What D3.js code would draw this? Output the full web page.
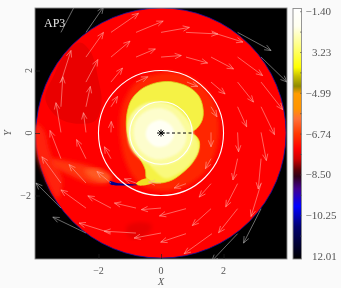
<!DOCTYPE html>
<html>
<head>
<meta charset="utf-8">
<script src="https://d3js.org/d3.v7.min.js"></script>
<style>
html,body{margin:0;padding:0;background:#fafafa;}
svg{display:block;}
text{font-family:"Liberation Serif",serif;fill:#555;}
</style>
</head>
<body>
<svg id="chart" width="341" height="288"></svg>
<script>
// velocity arrows, data coords: x0,y0,x1,y1
const arrows = [
[-3.2,3.22,-2.66,4.26],[-2.4,3.22,-1.84,4.03],[-1.6,3.22,-0.72,3.83],[-0.8,3.22,0.07,3.58],[0,3.22,0.91,3.38],[0.8,3.22,1.82,3.17],[1.63,3.22,2.62,2.91],[2.45,3.22,3.52,2.64],
[-2.4,2.43,-1.84,3.22],[-1.6,2.43,-0.99,2.94],[-0.8,2.43,-0.18,2.69],[0,2.43,0.65,2.48],[0.8,2.43,1.49,2.24],[1.6,2.43,2.32,2.05],[2.45,2.43,3.25,1.84],[3.2,2.43,4.03,1.63],
[-3.2,1.63,-2.88,2.64],[-2.4,1.63,-2.02,2.35],[-1.6,1.63,-1.23,2.08],[-0.8,1.63,-0.42,1.8],[0.83,1.63,1.18,1.49],[1.6,1.63,2.05,1.25],[2.45,1.63,2.96,0.99],[3.2,1.63,3.89,0.75],
[-3.2,0.84,-3.14,1.8],[-2.4,0.84,-2.26,1.49],[-1.6,0.84,-1.39,1.17],[1.6,0.84,1.79,0.52],[2.45,0.84,2.74,0.2],[3.2,0.84,3.63,-0.05],
[-3.2,0.02,-3.36,0.97],[-2.4,0.02,-2.48,0.65],[-1.6,0.02,-1.59,0.37],[1.6,0.02,1.6,-0.44],[2.45,0.02,2.48,-0.6],[3.2,0.02,3.37,-0.88],
[-3.2,-0.82,-3.55,0.08],[-2.4,-0.82,-2.7,-0.21],[-1.6,-0.82,-1.81,-0.44],[1.6,-0.82,1.42,-1.14],[2.45,-0.82,2.3,-1.5],[3.2,-0.82,3.11,-1.79],
[-3.2,-1.6,-3.81,-0.76],[-2.4,-1.6,-2.94,-1.01],[-1.6,-1.6,-2.05,-1.23],[-0.8,-1.6,-1.17,-1.47],[0,-1.6,-0.4,-1.57],[0.8,-1.62,0.42,-1.76],[1.6,-1.62,1.22,-2.05],[2.45,-1.62,2.07,-2.36],[3.2,-1.62,2.88,-2.67],
[-3.2,-2.4,-4,-1.6],[-2.4,-2.4,-3.2,-1.82],[-1.6,-2.4,-2.34,-2.01],[-0.8,-2.4,-1.49,-2.24],[0,-2.4,-0.63,-2.45],[0.8,-2.42,-0.05,-2.65],[1.6,-2.42,1,-2.96],[2.45,-2.42,1.84,-3.19],[3.2,-2.42,2.64,-3.52],
[-2.4,-3.2,-3.46,-2.69],[-1.6,-3.2,-2.62,-2.88],[-0.8,-3.2,-1.82,-3.14],[0,-3.2,-0.86,-3.36],[0.8,-3.22,-0.01,-3.49],[1.63,-3.22,0.74,-3.86],[2.45,-3.22,1.62,-4.1]
];

// filled regions, data coords, drawn in order
const outerBrightRing = [[-4,0.3],[-3.75,0.1],[-3.55,-0.6],[-3.15,-1.5],[-3.3,-2.1],[-3.7,-1.4],[-4,-0.6]];
const darkSwirl = [[-3.05,2.55],[-2.6,2.9],[-2.25,2.6],[-2.0,1.7],[-1.9,1.0],[-2.1,0.4],[-2.7,0.3],[-3.3,0.5],[-3.7,1.1],[-3.4,1.9]];
const darkSpot = [[-1.1,-3.0],[-0.7,-2.85],[-0.3,-2.95],[-0.5,-3.3],[-1.0,-3.35]];
const halo = [[0.2,1.95],[1.1,1.7],[1.65,1.1],[1.85,0.3],[1.75,-0.6],[1.4,-1.25],[0.8,-1.7],[0,-1.85],[-0.7,-1.6],[-1.1,-1.0],[-1.3,-0.1],[-1.25,0.8],[-0.8,1.6]];
const orangeTail = [[-3.5,-0.85],[-2.74,-0.95],[-2.1,-1.12],[-1.62,-1.41],[-1.69,-1.6],[-2.26,-1.6],[-2.9,-1.35],[-3.45,-1.05]];
const orangeCore = [[-2.45,-1.2],[-2.0,-1.15],[-1.6,-1.42],[-1.75,-1.55],[-2.2,-1.45]];
const yellowBlob = [[0.97,0],[1.16,0.16],[1.32,0.42],[1.35,0.74],[1.23,1.15],[0.94,1.44],[0.55,1.6],[0.17,1.65],[-0.28,1.57],[-0.66,1.38],[-0.95,1.06],[-1.08,0.67],[-1.11,0.26],[-1.05,-0.16],[-0.89,-0.54],[-0.63,-0.9],[-0.5,-1.18],[-0.47,-1.44],[-0.34,-1.57],[-0.02,-1.6],[0.36,-1.5],[0.68,-1.28],[1,-0.96],[1.19,-0.61],[1.23,-0.29],[1.13,-0.1]];
const lowerPale = [[0.98,-0.02],[1.18,-0.29],[1.18,-0.61],[0.96,-0.96],[0.64,-1.25],[0.14,-1.45],[-0.2,-1.2],[-0.36,-0.96],[0.3,-0.7],[0.78,-0.3]];
const paleDisk = [[-0.09,1.0],[0.3,0.92],[0.7,0.62],[1,0.18],[1.02,-0.22],[0.9,-0.54],[0.58,-0.86],[0.14,-1.02],[-0.3,-1.02],[-0.7,-0.8],[-0.98,-0.46],[-1.07,-0.06],[-1.04,0.42],[-0.84,0.74],[-0.47,0.96]];
const creamDisk = [[-0.02,0.8],[0.4,0.62],[0.68,0.26],[0.82,-0.06],[0.68,-0.5],[0.32,-0.76],[-0.18,-0.84],[-0.62,-0.6],[-0.86,-0.16],[-0.82,0.35],[-0.48,0.7]];
const whiteDisk = [[-0.02,0.42],[0.34,0.22],[0.42,-0.06],[0.2,-0.38],[-0.2,-0.42],[-0.48,-0.1],[-0.38,0.26]];
const darkStreak = [[-1.65,-1.54],[-1.4,-1.6],[-0.75,-1.66],[-1.3,-1.68],[-1.62,-1.64]];
const yellowStreak = [[-0.8,-1.62],[-0.45,-1.45],[-0.3,-1.6],[-0.7,-1.68]];

const circleRadii = [1, 2];
const xTicks = [-2, 0, 2];
const yTicks = [-2, 0, 2];
const barLabels = ["−1.40", "3.23", "−4.99", "−6.74", "−8.50", "−10.25", "12.01"];
const barStops = [
  [0, "#ffffff"], [0.07, "#fffff0"], [0.15, "#ffff80"], [0.235, "#ffff00"], [0.27, "#c8c000"], [0.31, "#8f8a00"],
  [0.34, "#ff9c00"], [0.4, "#ff9400"], [0.44, "#ff7038"], [0.5, "#ff3800"], [0.56, "#ff0000"], [0.6, "#d00000"],
  [0.645, "#5a0008"], [0.67, "#300018"], [0.72, "#400090"], [0.79, "#0000ff"], [0.87, "#000070"], [1, "#000000"]
];

const svg = d3.select("#chart");
const left = 35, right = 287, top_ = 8, bottom = 259;
const x = d3.scaleLinear().domain([-4.03, 4.03]).range([left, right]);
const y = d3.scaleLinear().domain([-4.03, 4.0]).range([bottom, top_]);

const defs = svg.append("defs");
defs.append("clipPath").attr("id", "frame").append("rect")
  .attr("x", left).attr("y", top_).attr("width", right - left).attr("height", bottom - top_);
defs.append("filter").attr("id", "soft").append("feGaussianBlur").attr("stdDeviation", 0.5);
defs.append("filter").attr("id", "mid").append("feGaussianBlur").attr("stdDeviation", 1.2);
defs.append("filter").attr("id", "softer").append("feGaussianBlur").attr("stdDeviation", 2);
defs.append("filter").attr("id", "text").append("feGaussianBlur").attr("stdDeviation", 0.3);
const grad = defs.append("linearGradient").attr("id", "bar").attr("x1", 0).attr("x2", 0).attr("y1", 0).attr("y2", 1);
barStops.forEach(s => grad.append("stop").attr("offset", s[0]).attr("stop-color", s[1]));

const plot = svg.append("g").attr("clip-path", "url(#frame)");
plot.append("rect").attr("x", left).attr("y", top_).attr("width", right - left).attr("height", bottom - top_).attr("fill", "#000");

const blob = d3.line().x(d => x(d[0])).y(d => y(d[1])).curve(d3.curveCatmullRomClosed);

plot.append("circle").attr("cx", x(0)).attr("cy", y(0)).attr("r", x(4) - x(0))
  .attr("fill", "#ff0000").attr("stroke", "#1010a0").attr("stroke-width", 0.8);

function region(pts, color, filter, edge) {
  plot.append("path").attr("d", blob(pts)).attr("fill", color)
    .attr("stroke", edge || "none").attr("stroke-width", 0.8)
    .attr("filter", filter ? "url(#" + filter + ")" : null);
}
region(outerBrightRing, "#ff2208", "softer");
region(darkSwirl, "#ea0000", "soft");
region(darkSpot, "#e80000", "softer");
region(halo, "#ff2800", "softer");
region(orangeTail, "#ff3410", "softer");
region(orangeCore, "#ff5a20", "softer");
region(yellowBlob, "#f5f244", "soft", "#dcd420");
region(lowerPale, "#f9f97c", "mid");
region(paleDisk, "#fbfb9c", "mid");
region(creamDisk, "#fdfdcc", "mid");
region(whiteDisk, "#fffff4", "mid");
region(yellowStreak, "#f0e020", "soft");
region(darkStreak, "#00008c");

// white rings of radius 1 and 2
plot.selectAll(".ring").data(circleRadii).enter().append("circle")
  .attr("class", "ring")
  .attr("cx", x(0)).attr("cy", y(0)).attr("r", d => x(d) - x(0))
  .attr("fill", "none").attr("stroke", "#fff").attr("stroke-width", 1.1);

// velocity arrows: pink on the disc, gray outside it
const arrowGroup = plot.append("g").attr("fill", "none").attr("stroke-width", 0.6).attr("filter", "url(#text)");
arrows.forEach(a => {
  const outside = Math.hypot(a[0], a[1]) > 3.98;
  const px = x(a[0]), py = y(a[1]), qx = x(a[2]), qy = y(a[3]);
  const ang = Math.atan2(qy - py, qx - px), head = 7;
  const p = [[px, py], [qx, qy]];
  const h = [[qx + head * Math.cos(ang + 2.75), qy + head * Math.sin(ang + 2.75)], [qx, qy], [qx + head * Math.cos(ang - 2.75), qy + head * Math.sin(ang - 2.75)]];
  const color = outside ? "#b0b0b0" : "#ffa8a0";
  arrowGroup.append("path").attr("d", d3.line()(p)).attr("stroke", color);
  arrowGroup.append("path").attr("d", d3.line()(h)).attr("stroke", color);
});

// dashed line to the companion and the central star
plot.append("line").attr("x1", x(0)).attr("x2", x(1)).attr("y1", y(0)).attr("y2", y(0))
  .attr("stroke", "#000").attr("stroke-width", 1).attr("stroke-dasharray", "3,2.5");
plot.append("path")
  .attr("d", "M-4,0H4M0,-3.5V3.5M-2.5,-2.5L2.5,2.5M-2.5,2.5L2.5,-2.5")
  .attr("transform", "translate(" + x(0) + "," + y(0) + ")")
  .attr("stroke", "#000").attr("stroke-width", 1).attr("fill", "none");

// frame and axes
svg.append("rect").attr("x", left).attr("y", top_).attr("width", right - left).attr("height", bottom - top_)
  .attr("fill", "none").attr("stroke", "#8a8a8a").attr("stroke-width", 0.9);

const xAxis = svg.append("g").attr("transform", "translate(0," + bottom + ")")
  .call(d3.axisBottom(x).tickValues(xTicks).tickSize(-5).tickFormat(""));
const yAxis = svg.append("g").attr("transform", "translate(" + left + ",0)")
  .call(d3.axisLeft(y).tickValues(yTicks).tickSize(-5).tickFormat(""));
[xAxis, yAxis].forEach(a => {
  a.select(".domain").remove();
  a.selectAll("line").attr("stroke", "#222").attr("stroke-width", 0.7);
});

const labels = svg.append("g").attr("filter", "url(#text)");
xTicks.forEach(t => labels.append("text").attr("x", x(t)).attr("y", 274)
  .attr("text-anchor", "middle").attr("font-size", 10).text(t < 0 ? "−" + (-t) : t));
labels.append("text").attr("x", x(0)).attr("y", 285).attr("text-anchor", "middle")
  .attr("font-size", 10).attr("font-style", "italic").text("X");
yTicks.forEach(t => {
  const lab = labels.append("text").attr("font-size", 10).text(t < 0 ? "−" + (-t) : t);
  if (t < 0) lab.attr("x", 31).attr("y", y(t) + 3.5).attr("text-anchor", "end");
  else lab.attr("text-anchor", "middle").attr("transform", "translate(31.5," + y(t) + ") rotate(-90)");
});
labels.append("text").attr("transform", "translate(11," + y(0) + ") rotate(-90)")
  .attr("text-anchor", "middle").attr("font-size", 10).attr("font-style", "italic").text("Y");
labels.append("text").attr("x", 44).attr("y", 27).attr("font-size", 12).style("fill", "#e8e8e8").text("AP3");

// colour bar
const barTop = 8.5, barBottom = 259, barX = 293, barW = 8.5;
const barScale = d3.scalePoint().domain(barLabels).range([11.7, 256.5]);
svg.append("rect").attr("x", barX).attr("y", barTop).attr("width", barW).attr("height", barBottom - barTop)
  .attr("fill", "url(#bar)").attr("stroke", "#8a8a8a").attr("stroke-width", 0.9);
barLabels.forEach(l => {
  labels.append("text").attr("x", l[0] === "−" ? 305.5 : 312).attr("y", barScale(l) + 3.5)
    .attr("font-size", 11).text(l);
  // small inner tick, plus one half way to the next label
  [0, barScale.step() / 2].forEach(off => {
    const ty = barScale(l) + off;
    if (ty < barBottom - 3) svg.append("line").attr("x1", barX + barW - 1.5).attr("x2", barX + barW)
      .attr("y1", ty).attr("y2", ty).attr("stroke", "#444").attr("stroke-width", 0.6);
  });
});
</script>
</body>
</html>
